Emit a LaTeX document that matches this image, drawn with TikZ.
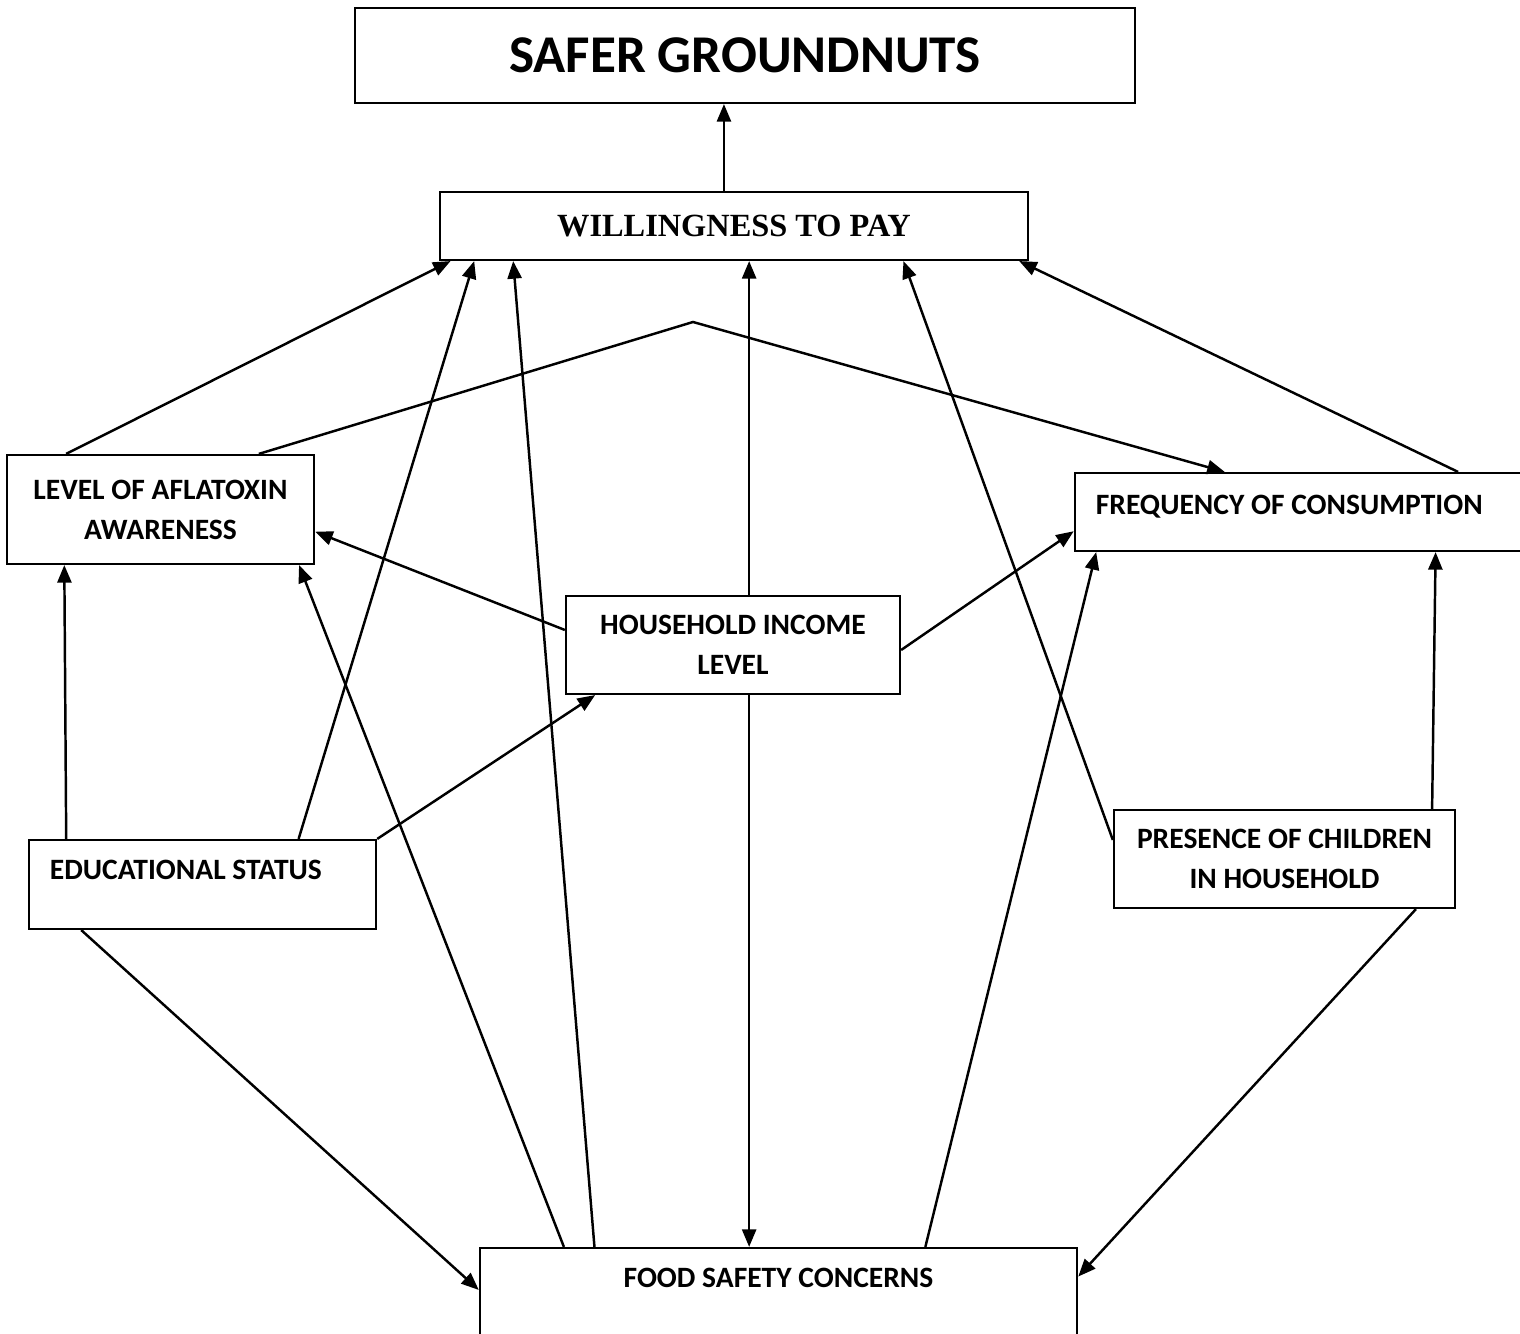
\documentclass[tikz,border=0pt]{standalone}
\usepackage{fontspec}
\setmainfont{Carlito}
\newfontfamily\wtpfont{Liberation Serif}
\usetikzlibrary{arrows.meta,calc}

\tikzset{
    box/.style={draw, line width=0.6pt, align=center, inner sep=0pt,
        font=\bfseries\fontsize{8.4}{11.4}\selectfont},
    leftbox/.style={box, align=flush left, inner xsep=6pt},
    link/.style={line width=0.7pt, -{Triangle[length=5pt, width=4pt]}},
}

\begin{document}
\begin{tikzpicture}[x=0.01cm, y=-0.01cm]
    \useasboundingbox (0,0) rectangle (1520,1334);

    \node (safer) [box, minimum width=7.8cm, minimum height=0.95cm,
        font=\bfseries\fontsize{15.1}{18}\selectfont] at (745,55.5) {SAFER GROUNDNUTS};
    \node (wtp) [box, minimum width=5.88cm, minimum height=0.68cm,
        font=\wtpfont\bfseries\fontsize{9.2}{11}\selectfont] at (734,226) {WILLINGNESS TO PAY};
    \node (aware) [box, minimum width=3.07cm, minimum height=1.09cm] at (160.5,509.5) {LEVEL OF AFLATOXIN\\AWARENESS};
    \node (freq) [leftbox, text width=4.05cm, minimum height=0.78cm] at (1298.5,512) {FREQUENCY OF CONSUMPTION\\[-7.4pt]~};
    \node (income) [box, minimum width=3.34cm, minimum height=0.98cm] at (733,645) {HOUSEHOLD INCOME\\LEVEL};
    \node (edu) [leftbox, text width=3.05cm, minimum height=0.89cm] at (202.5,884.5) {EDUCATIONAL STATUS\\[-3.1pt]~};
    \node (children) [box, minimum width=3.41cm, minimum height=0.98cm] at (1284.5,859) {PRESENCE OF CHILDREN\\IN HOUSEHOLD};
    \node (food) [box, minimum width=5.97cm, minimum height=0.92cm] at (778.5,1294) {FOOD SAFETY CONCERNS\\[-2.3pt]~};
    \coordinate (bend) at (693,322);

    % into willingness to pay
    \draw[link] ($(wtp.north west)!0.483!(wtp.north east)$) coordinate (w1) -- (w1 |- safer.south);
    \draw[link] ($(aware.north west)!0.195!(aware.north east)$) -- ($(wtp.south west)!0.02!(wtp.south east)$);
    \draw[link] ($(edu.north west)!0.775!(edu.north east)$) -- ($(wtp.south west)!0.06!(wtp.south east)$);
    \draw[link] ($(food.north west)!0.193!(food.north east)$) -- ($(wtp.south west)!0.126!(wtp.south east)$);
    \draw[link] ($(income.north west)!0.548!(income.north east)$) coordinate (i1) -- (i1 |- wtp.south);
    \draw[link] ($(children.north west)!0.31!(children.south west)$) -- ($(wtp.south west)!0.787!(wtp.south east)$);
    \draw[link] ($(freq.north west)!0.855!(freq.north east)$) -- ($(wtp.south west)!0.983!(wtp.south east)$);

    % between the factors
    \draw[link] ($(aware.north west)!0.818!(aware.north east)$) -- (bend) -- ($(freq.north west)!0.336!(freq.north east)$);
    \draw[link] ($(income.north west)!0.35!(income.south west)$) -- ($(aware.north east)!0.70!(aware.south east)$);
    \draw[link] ($(food.north west)!0.142!(food.north east)$) -- ($(aware.south west)!0.948!(aware.south east)$);
    \draw[link] ($(edu.north west)!0.11!(edu.north east)$) -- ($(aware.south west)!0.189!(aware.south east)$);
    \draw[link] (edu.north east) -- ($(income.south west)!0.09!(income.south east)$);
    \draw[link] ($(income.south west)!0.548!(income.south east)$) coordinate (i2) -- (i2 |- food.north);
    \draw[link] ($(income.north east)!0.55!(income.south east)$) -- ($(freq.north west)!0.74!(freq.south west)$);
    \draw[link] ($(food.north west)!0.745!(food.north east)$) -- ($(freq.south west)!0.05!(freq.south east)$);
    \draw[link] ($(children.north west)!0.93!(children.north east)$) -- ($(freq.south west)!0.805!(freq.south east)$);
    \draw[link] ($(edu.south west)!0.153!(edu.south east)$) -- ($(food.north west)!0.457!(food.south west)$);
    \draw[link] ($(children.south west)!0.883!(children.south east)$) -- ($(food.north east)!0.315!(food.south east)$);
\end{tikzpicture}
\end{document}
